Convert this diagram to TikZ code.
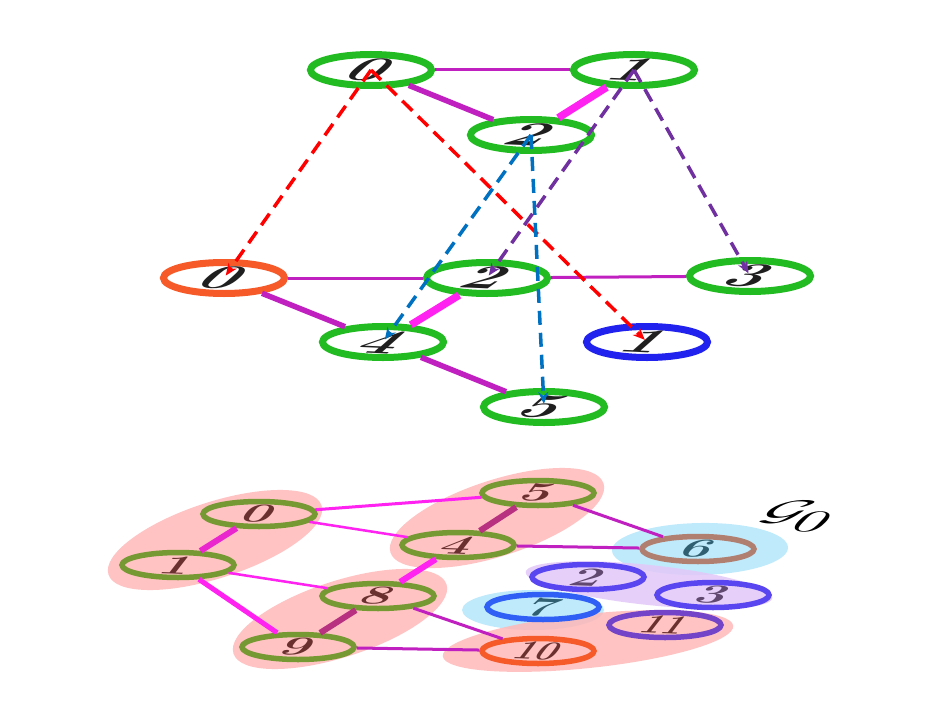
\documentclass[tikz,border=0pt]{standalone}
\usetikzlibrary{shapes.geometric,arrows.meta}
\definecolor{ngreen}{HTML}{22BB22}
\definecolor{norange}{HTML}{F55A28}
\definecolor{nblue}{HTML}{2222EE}
\definecolor{emag}{HTML}{C020C0}
\definecolor{ebright}{HTML}{FF22F0}
\definecolor{edark}{HTML}{B83080}
\definecolor{ared}{HTML}{FF0000}
\definecolor{ablue}{HTML}{0070C0}
\definecolor{apurple}{HTML}{7030A0}
\definecolor{olive}{HTML}{779933}
\definecolor{pinkblob}{HTML}{FFB8B8}
\definecolor{blueblob}{HTML}{B4E6FB}
\definecolor{purpblob}{HTML}{E2C8F8}
\definecolor{brownb}{HTML}{B07F70}
\definecolor{violb}{HTML}{5A46F0}
\definecolor{blue7}{HTML}{2F5FF5}
\definecolor{purp11}{HTML}{7444C8}
\definecolor{maroon}{HTML}{6A3030}
\definecolor{tealtx}{HTML}{2F5F70}
\definecolor{greytx}{HTML}{604870}
\tikzset{
  tn/.style={ellipse, draw=ngreen, line width=7pt, fill=white, minimum width=121pt, minimum height=31pt, inner sep=0pt},
  bn/.style={ellipse, draw=olive, line width=5.5pt, minimum width=112pt, minimum height=25pt, inner sep=0pt},
  dg/.style={font=\fontsize{33}{33}\selectfont\bfseries, text=black!88, inner sep=0pt, xscale=2.1, xslant=0.45, rotate=-5},
  bdg/.style={font=\fontsize{26}{26}\selectfont\bfseries, text=maroon, inner sep=0pt, xscale=2.1, xslant=0.3, rotate=-4},
  thin/.style={draw=emag, line width=3pt},
  mid/.style={draw=emag, line width=5.5pt},
  fat/.style={draw=ebright, line width=7.5pt},
  arr/.style={dash pattern=on 14pt off 8pt, line width=3.5pt, -{Stealth[length=12pt,width=10pt]}, shorten >=3pt},
  blob/.style={opacity=0.85}
}
\begin{document}
\begin{tikzpicture}[x=1pt,y=-1pt]
\useasboundingbox (0,0) rectangle (925,714);
% ---------- top graph ----------
\node[tn] (t0) at (371,70) {};
\node[tn] (t1) at (634,70) {};
\node[tn] (t2) at (531,135) {};
\node[tn, draw=norange] (m0) at (224,278) {};
\node[tn] (m2) at (487,278) {};
\node[tn] (m3) at (750,276) {};
\node[tn] (m4) at (383,342) {};
\node[tn, draw=nblue] (m1) at (647,342) {};
\node[tn] (m5) at (544,407) {};
\draw[thin] (t0) -- (t1);
\draw[mid] (t0) -- (t2);
\draw[fat] (t1) -- (t2);
\draw[thin] (m0) -- (m2);
\draw[thin] (m2) -- (m3);
\draw[mid] (m0) -- (m4);
\draw[fat] (m2) -- (m4);
\draw[mid] (m4) -- (m5);
% digits
\node[dg] at (t0) {0};
\node[dg] at (t1) {1};
\node[dg] at (t2) {2};
\node[dg] at (m0) {0};
\node[dg] at (m2) {2};
\node[dg] at (m3) {3};
\node[dg] at (m4) {4};
\node[dg] at (m1) {1};
\node[dg] at (m5) {5};
% dashed arrows
\draw[arr, draw=ared] (t0.center) -- (m0.center);
\draw[arr, draw=ared] (t0.center) -- (m1.center);
\draw[arr, draw=ablue] (t2.center) -- (m4.center);
\draw[arr, draw=ablue] (t2.center) -- (m5.center);
\draw[arr, draw=apurple] (t1.center) -- (m2.center);
\draw[arr, draw=apurple] (t1.center) -- (m3.center);
% ---------- bottom graph ----------
\fill[pinkblob, blob, rotate around={18:(215,540)}] (215,540) ellipse (112 and 38);
\fill[pinkblob, blob, rotate around={18:(497,518)}] (497,518) ellipse (112 and 38);
\fill[pinkblob, blob, rotate around={18:(340,619)}] (340,619) ellipse (112 and 38);
\fill[blueblob, blob, rotate around={1:(700,549)}] (700,549) ellipse (88 and 26);
\fill[purpblob, blob, rotate around={-6:(649,585)}] (649,585) ellipse (124 and 20);
\fill[blueblob, blob] (533,610) ellipse (71 and 20);
\fill[pinkblob, blob, rotate around={6:(588,641)}] (588,641) ellipse (146 and 27);
\node[bn] (b0) at (259,514) {};
\node[bn] (b1) at (178,565) {};
\node[bn] (b5) at (538,493) {};
\node[bn] (b4) at (458,545) {};
\node[bn] (b8) at (378,596) {};
\node[bn] (b9) at (298,647) {};
\node[bn, draw=brownb] (b6) at (698,549) {};
\node[bn, draw=violb] (b2) at (588,577) {};
\node[bn, draw=violb] (b3) at (713,595) {};
\node[bn, draw=blue7] (b7) at (543,607) {};
\node[bn, draw=purp11] (b11) at (665,625) {};
\node[bn, draw=norange] (b10) at (538,651) {};
\draw[draw=ebright, line width=3pt] (b0) -- (b5);
\draw[draw=ebright, line width=2.5pt] (b0) -- (b4);
\draw[draw=ebright, line width=2.5pt] (b1) -- (b8);
\draw[draw=ebright, line width=5pt] (b1) -- (b9);
\draw[draw=ebright!70!edark, line width=6pt] (b0) -- (b1);
\draw[draw=edark, line width=6pt] (b5) -- (b4);
\draw[draw=edark, line width=6pt] (b8) -- (b9);
\draw[draw=ebright, line width=6pt] (b4) -- (b8);
\draw[thin] (b5) -- (b6);
\draw[thin] (b4) -- (b6);
\draw[thin] (b8) -- (b10);
\draw[thin] (b9) -- (b10);
\node[bdg] at (b0) {0};
\node[bdg] at (b1) {1};
\node[bdg] at (b5) {5};
\node[bdg] at (b4) {4};
\node[bdg] at (b8) {8};
\node[bdg] at (b9) {9};
\node[bdg, text=tealtx] at (b6) {6};
\node[bdg, text=greytx] at (b2) {2};
\node[bdg, text=greytx] at (b3) {3};
\node[bdg, text=tealtx] at (b7) {7};
\node[bdg, xscale=0.7] at (b11) {11};
\node[bdg, xscale=0.7] at (b10) {10};
\node[inner sep=0pt, xscale=2.2, xslant=0.3, rotate=-8] (g0) at (800,516) {\scalebox{3}{$\mathcal{G}_{\textstyle 0}$}};
\end{tikzpicture}
\end{document}
